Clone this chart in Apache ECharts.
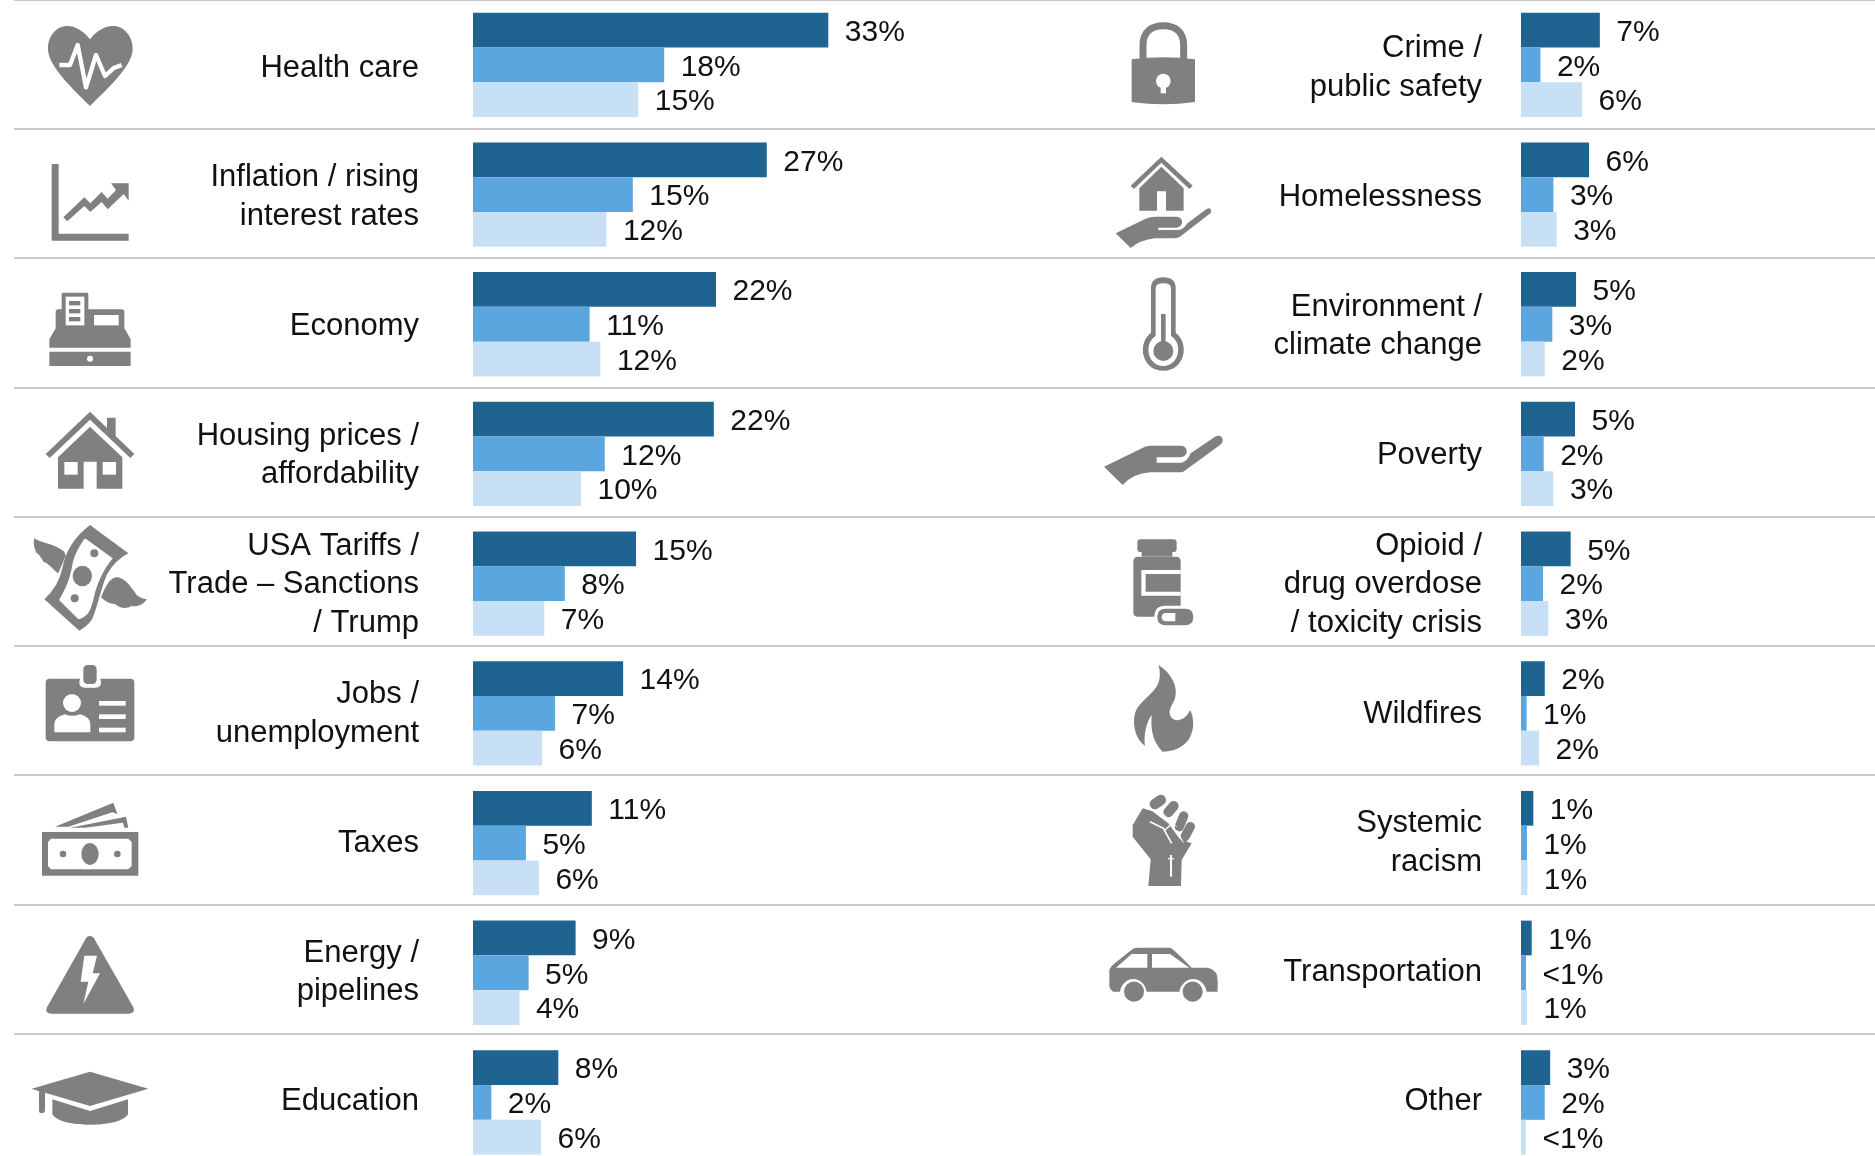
<!DOCTYPE html>
<html>
<head>
<meta charset="utf-8">
<style>html,body{margin:0;padding:0;background:#fff}#c{width:1875px;height:1156px}</style>
<script src="https://cdn.jsdelivr.net/npm/echarts@6/dist/echarts.min.js"></script>
</head>
<body>
<div id="c"></div>
<script>
const leftTopics = ['Health care','Inflation / rising\ninterest rates','Economy','Housing prices /\naffordability','USA Tariffs /\nTrade – Sanctions\n/ Trump','Jobs /\nunemployment','Taxes','Energy /\npipelines','Education'];
const leftDark  = [32.9,27.2,22.5,22.3,15.1,13.9,11.0,9.5,7.9];
const leftMid   = [17.7,14.8,10.8,12.2,8.5,7.6,4.9,5.15,1.7];
const leftLight = [15.3,12.35,11.8,10.0,6.6,6.4,6.1,4.3,6.3];
const leftDarkLabels  = ['33%','27%','22%','22%','15%','14%','11%','9%','8%'];
const leftMidLabels   = ['18%','15%','11%','12%','8%','7%','5%','5%','2%'];
const leftLightLabels = ['15%','12%','12%','10%','7%','6%','6%','4%','6%'];

const rightTopics = ['Crime /\npublic safety','Homelessness','Environment /\nclimate change','Poverty','Opioid /\ndrug overdose\n/ toxicity crisis','Wildfires','Systemic\nracism','Transportation','Other'];
const rightDark  = [7.3,6.3,5.1,5.0,4.6,2.2,1.14,0.99,2.7];
const rightMid   = [1.8,3.0,2.9,2.1,2.04,0.52,0.55,0.46,2.2];
const rightLight = [5.65,3.3,2.2,3.0,2.53,1.67,0.59,0.55,0.46];
const rightDarkLabels  = ['7%','6%','5%','5%','5%','2%','1%','1%','3%'];
const rightMidLabels   = ['2%','3%','3%','2%','2%','1%','1%','<1%','2%'];
const rightLightLabels = ['6%','3%','2%','3%','3%','2%','1%','1%','<1%'];

const DARK='#1F6391', MID='#5BA6DF', LIGHT='#C8E0F5', GREY='#808080', WHITE='#ffffff';
const FONT='"Liberation Sans"';

function rect(x,y,w,h){return `M${x} ${y}H${x+w}V${y+h}H${x}Z`;}
function ell(cx,cy,rx,ry){ry=ry||rx;return `M${cx-rx} ${cy}A${rx} ${ry} 0 1 1 ${cx+rx} ${cy}A${rx} ${ry} 0 1 1 ${cx-rx} ${cy}Z`;}
function rr(x,y,w,h,r){return `M${x+r} ${y}H${x+w-r}Q${x+w} ${y} ${x+w} ${y+r}V${y+h-r}Q${x+w} ${y+h} ${x+w-r} ${y+h}H${x+r}Q${x} ${y+h} ${x} ${y+h-r}V${y+r}Q${x} ${y} ${x+r} ${y}Z`;}
const g=d=>({d,fill:GREY}), w=d=>({d,fill:WHITE}), sw=(d,lw)=>({d,stroke:WHITE,lw}), sg=(d,lw,cap)=>({d,stroke:GREY,lw,cap});

const icons=[
 {x:25,y:10,parts:[
  g('M195 88C175 62 150 48 128 48C92 48 68 80 69 118C70 165 130 225 195 288C260 225 322 165 323 118C324 80 298 48 264 48C240 48 215 62 195 88Z'),
  sw('M103 165L135 165L158 105L183 232L213 135L240 198L265 175L290 165',13)]},
 {x:25,y:10,parts:[
  g('M80 462H101V671H311V692H80Z'),
  g('M115 622L178 562L196 580L230 546L248 566L273 540L258 520L311 520L311 572L296 552L248 598L230 576L196 606L178 588L127 634Z')]},
 {x:25,y:270,parts:[
  g('M110 72Q110 68 115 68H185Q190 68 190 72V118H290Q298 118 298 126V175L317 208V233H73V208L92 175V126Q92 118 100 118H110Z'),
  g(rect(73,245,244,43)),
  w(rect(122,80,56,86)),g(rect(132,93,34,13)),g(rect(132,117,34,13)),g(rect(132,141,34,13)),
  w(rect(207,135,74,31)),w(ell(195,266,9))]},
 {x:25,y:270,parts:[
  g('M62 552L195 425L246 474V443H272V498L328 552L316 564L195 449L74 564Z'),
  g('M195 470L292 562V656H215V575H176V656H99V562Z'),
  w(rect(118,576,40,38)),w(rect(233,576,40,38))]},
 {x:25,y:520,parts:[
  g('M28 55C45 68 85 70 118 95L122 108L100 160C85 150 72 130 55 125C50 115 40 100 35 100C25 80 25 65 28 55Z'),
  g('M228 232C240 205 250 178 272 172C295 170 315 195 335 225C345 233 355 236 365 238C355 255 335 262 318 258C305 268 285 265 270 252C255 252 240 245 228 232Z'),
  g('M195 15L310 100Q268 122 245 165C225 215 215 270 200 300Q185 320 163 332L58 238Q100 200 112 145C122 90 150 50 195 15Z'),
  w('M180 55L263 115C235 150 215 190 205 240C197 270 190 290 160 298L102 240C120 210 135 180 143 130C150 100 165 75 180 55Z'),
  g(ell(172,168,29,31)),g(ell(208,100,12)),g(ell(149,235,12))]},
 {x:25,y:520,parts:[
  g(rr(62,476,266,188,12)),w(rr(163,470,65,33,16)),g(rr(175,435,40,57,14)),
  w(ell(141,549,27)),w('M88 637V612Q90 590 120 583Q141 592 165 583Q194 590 196 612V637Z'),
  w(rect(222,543,80,14)),w(rect(222,583,80,14)),w(rect(222,623,80,14))]},
 {x:25,y:780,parts:[
  g(rect(51,156,289,131)),w('M78 176H310L320 186V258L310 268H78L69 258V186Z'),
  g(ell(195,222,26,33)),g(ell(114,222,10)),g(ell(277,222,10)),
  g('M90 140L265 68L277 102L262 97L130 140Z'),g('M135 143L303 110L310 143H298L294 128L180 143Z')]},
 {x:25,y:780,parts:[
  g('M195 468Q205 468 210 480L325 682Q332 700 312 701H78Q58 700 66 682L180 480Q185 468 195 468Z'),
  w('M178 527H216L203 580H225L175 672L190 605H167Z')]},
 {x:25,y:780,parts:[
  g('M195 875L370 926L195 978L60 938V990Q60 1000 49 1000Q42 1000 42 990V934L20 926Z'),
  g('M82 958L195 993L309 958V1003C285 1045 105 1045 82 1003Z')]},
 {x:1100,y:10,parts:[
  sg('M129 150V105C129 65 155 47 190 47C225 47 251 65 251 105V150',21),
  g('M95 148Q190 135 285 148V276Q190 290 95 276Z'),
  w(ell(190,213,22)),w(rect(182,225,16,25))]},
 {x:1100,y:10,parts:[
  g('M92 527L184 440L278 527L268 537L184 458L102 537Z'),
  g('M184 470L251 535V602H198V544H171V602H118V535Z'),
  g('M47 670L140 625Q150 620 165 620H230Q248 622 246 640Q244 650 230 653H175V660H235Q250 660 262 640L320 597Q335 590 333 608L240 680Q230 685 220 685H165Q120 690 92 714Z')]},
 {x:1100,y:10,parts:[
  g('M153 835Q153 802 190 802Q227 802 227 835V968C270 1000 255 1082 190 1082C125 1082 110 1000 153 968Z'),
  w('M167 835Q167 820 190 820Q213 820 213 835V978C250 1000 238 1068 190 1068C142 1068 130 1000 167 978Z'),
  g(ell(190,1023,30)),g(rect(183,912,14,100))]},
 {x:1100,y:420,parts:[
  g('M12 140L135 80Q145 77 155 77H245Q262 80 260 97Q258 110 240 112H170V128H245Q262 125 272 100L345 50Q362 42 368 57Q370 68 360 75L250 155Q245 157 235 157H150Q100 160 68 195Z')]},
 {x:1100,y:420,parts:[
  g(rr(112,358,118,38,10)),g(rect(125,395,92,15)),
  g('M100 425Q100 410 115 410H228Q242 410 242 425V590H115Q100 590 100 578Z'),
  w('M124 450H242V462H137V515H242V527H124Z'),
  w(rr(163,557,126,68,34)),g(rr(172,566,108,50,25)),
  w('M226 579H197Q185 580 185 591Q185 603 197 604H226Z')]},
 {x:1100,y:420,parts:[
  g('M175 735C215 760 235 800 225 835C215 860 205 870 210 885C220 910 255 905 270 870C285 895 285 950 250 975C230 990 210 995 188 995C170 975 150 950 155 885C140 905 130 945 135 978C110 960 95 920 105 880C115 845 160 825 175 790C182 770 180 750 175 735Z')]},
 {x:1100,y:780,parts:[
  sg('M165 72L182 60',32,'round'),sg('M205 97L221 78',30,'round'),sg('M238 140L251 108',28,'round'),sg('M255 170L271 140',28,'round'),
  g('M98 135L128 85L155 92L205 130L240 178L275 190L245 240L243 318H145L152 238L98 170Z'),
  sw('M150 125L190 145L215 190',5),sw('M195 150L225 122',4),sw('M135 85L185 100',3),sw('M188 100L230 140',3),sw('M230 150L250 188',3),
  sw('M213 225V290',6),sw('M204 236H222',4)]},
 {x:1090,y:500,sy:2.39,parts:[
  g('M58 1125Q60 1115 78 1105L125 1075Q130 1070 145 1070H240Q250 1072 305 1118H355Q385 1125 383 1150V1175H350C340 1135 280 1135 268 1175H170C160 1135 100 1135 90 1175H70Q58 1170 58 1160Z'),
  w('M78 1118L125 1085H172V1118Z'),w('M186 1085H240L298 1118H186Z'),
  g(ell(132,1175,30,24)),g(ell(308,1175,30,24))]}
];

const PX_PER_UNIT=10.8, BAND=129.7, RULE_BAND=129.25, LABEL_BAND=129.2;
const bounds={outerBoundsMode:'none'};

function barSeries(name,vals,labs,color,idx){
  return {name,type:'bar',xAxisIndex:idx,yAxisIndex:idx,data:vals,barGap:0,barCategoryGap:'19.6%',silent:true,
    itemStyle:{color},
    label:{show:true,position:'right',distance:16.5,offset:[0,2.5],fontFamily:FONT,fontSize:30,color:'#111',
      formatter:p=>labs[p.dataIndex]}};
}
function barAxis(idx,data){
  return {type:'category',gridIndex:idx,inverse:true,data,
    axisLine:{show:false},axisTick:{show:false},axisLabel:{show:false},splitLine:{show:false}};
}
function labelAxis(idx,data,margin){
  return {type:'category',gridIndex:idx,inverse:true,data,
    axisLine:{show:false},axisTick:{show:false},splitLine:{show:false},
    axisLabel:{show:true,interval:0,margin,align:'right',fontFamily:FONT,fontSize:31,lineHeight:38.5,color:'#111'}};
}
function valAxis(idx,max){
  return {type:'value',gridIndex:idx,min:0,max,show:false,splitLine:{show:false}};
}

const chart=echarts.init(document.getElementById('c'),null,{renderer:'canvas'});
chart.setOption({
  animation:false,backgroundColor:'#fff',
  grid:[
    {left:14,top:-0.5,width:1861,height:RULE_BAND*9,...bounds},
    {left:473,top:0,width:37*PX_PER_UNIT,height:BAND*9,...bounds},
    {left:1521,top:0,width:30*PX_PER_UNIT,height:BAND*9,...bounds},
    {left:473,top:3.4,width:10,height:LABEL_BAND*9,...bounds},
    {left:1521,top:3.4,width:10,height:LABEL_BAND*9,...bounds}
  ],
  xAxis:[valAxis(0,1),valAxis(1,37),valAxis(2,30),valAxis(3,1),valAxis(4,1)],
  yAxis:[
    {type:'category',gridIndex:0,inverse:true,data:leftTopics,
      axisLine:{show:false},axisTick:{show:false},axisLabel:{show:false},
      splitLine:{show:true,interval:0,lineStyle:{color:'#c9c9c9',width:2}}},
    barAxis(1,leftTopics),
    barAxis(2,rightTopics),
    labelAxis(3,leftTopics,54),
    labelAxis(4,rightTopics,39)
  ],
  series:[
    barSeries('leftDark',leftDark,leftDarkLabels,DARK,1),
    barSeries('leftMid',leftMid,leftMidLabels,MID,1),
    barSeries('leftLight',leftLight,leftLightLabels,LIGHT,1),
    barSeries('rightDark',rightDark,rightDarkLabels,DARK,2),
    barSeries('rightMid',rightMid,rightMidLabels,MID,2),
    barSeries('rightLight',rightLight,rightLightLabels,LIGHT,2),
    {type:'custom',coordinateSystem:'none',silent:true,z:5,clip:false,
      data:icons.map((_,i)=>[i]),
      renderItem:(params,api)=>{
        const ic=icons[api.value(0)];
        return {type:'group',x:ic.x,y:ic.y,scaleX:1/3,scaleY:1/(ic.sy||3),
          children:ic.parts.map(p=>({type:'path',shape:{pathData:p.d},
            style:p.stroke?{fill:null,stroke:p.stroke,lineWidth:p.lw,lineJoin:'round',lineCap:p.cap||'butt'}:{fill:p.fill,stroke:null}}))};
      }}
  ]
});
</script>
</body>
</html>
